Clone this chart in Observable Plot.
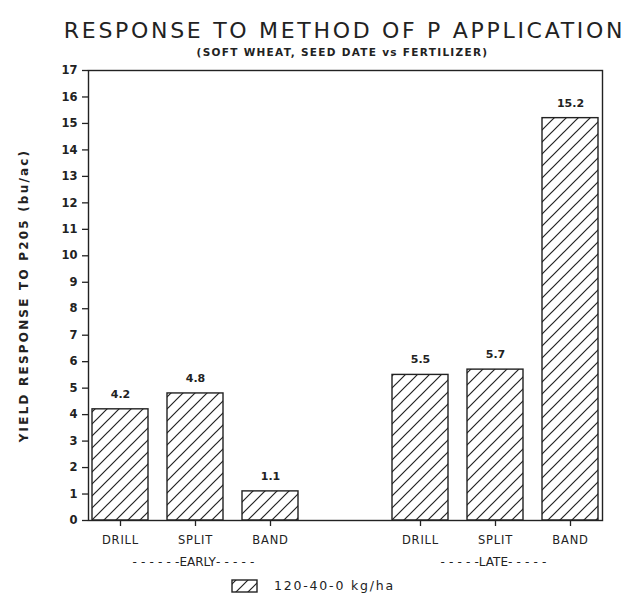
<!DOCTYPE html>
<html>
<head>
<meta charset="utf-8">
<script src="https://cdn.jsdelivr.net/npm/d3@7"></script>
<script src="https://cdn.jsdelivr.net/npm/@observablehq/plot@0.6"></script>
<style>
  body { margin: 0; background: #fff; }
  #chart svg { font-family: "DejaVu Sans", "Liberation Sans", sans-serif; }
</style>
</head>
<body>
<div id="chart"></div>
<script>
// ---- data ----
const timing = ["EARLY", "EARLY", "EARLY", "LATE", "LATE", "LATE"];
const methods = ["DRILL", "SPLIT", "BAND", "DRILL", "SPLIT", "BAND"];
const response = [4.2, 4.8, 1.1, 5.5, 5.7, 15.2];
const slots = ["EARLY DRILL", "EARLY SPLIT", "EARLY BAND", " ", "LATE DRILL", "LATE SPLIT", "LATE BAND"];
const yTicks = [0, 1, 2, 3, 4, 5, 6, 7, 8, 9, 10, 11, 12, 13, 14, 15, 16, 17];
const groupKeys = ["EARLY SPLIT", "LATE SPLIT"];
const groupTexts = ["------EARLY-----", "-----LATE-----"];
const seriesName = "120-40-0 kg/ha";
const titleText = "RESPONSE TO METHOD OF P APPLICATION";
const subtitleText = "(SOFT WHEAT, SEED DATE vs FERTILIZER)";
const yLabel = "YIELD RESPONSE TO P205 (bu/ac)";

const data = methods.map((m, i) => ({key: timing[i] + " " + m, method: m, value: response[i]}));
const groups = groupKeys.map((k, i) => ({key: k, label: groupTexts[i]}));

const defs = () => {
  const ns = "http://www.w3.org/2000/svg";
  const d = document.createElementNS(ns, "defs");
  d.innerHTML = `<pattern id="hatch" patternUnits="userSpaceOnUse" width="12" height="12">
      <rect width="12" height="12" fill="white"/>
      <path d="M-3,3 l6,-6 M0,12 l12,-12 M9,15 l6,-6" stroke="#222" stroke-width="1.2"/>
    </pattern>`;
  return d;
};

const legend = () => {
  const ns = "http://www.w3.org/2000/svg";
  const g = document.createElementNS(ns, "g");
  g.innerHTML = `<rect x="232" y="580" width="25" height="12" fill="url(#hatch)" stroke="#222" stroke-width="1.4"/>
    <text x="274" y="590" text-anchor="start" font-size="12.5" fill="#222" letter-spacing="1.8">${seriesName}</text>`;
  return g;
};

const chart = Plot.plot({
  width: 635,
  height: 595,
  marginTop: 70,
  marginBottom: 75,
  marginLeft: 88,
  marginRight: 33,
  style: {background: "white", color: "#222"},
  x: {domain: slots, paddingInner: 0.26, paddingOuter: 0.035, axis: null},
  y: {domain: [0, 17], axis: null},
  marks: [
    defs,
    Plot.barY(data, {x: "key", y: "value", fill: "url(#hatch)", stroke: "#222", strokeWidth: 1.4}),
    Plot.frame({stroke: "#222", strokeWidth: 1.4}),
    Plot.axisY({ticks: yTicks, tickSize: 6, tickPadding: 5, fontSize: 11.5, fontWeight: "bold", label: null, strokeWidth: 1.3}),
    Plot.axisX({ticks: slots.filter(s => s.trim()), tickFormat: d => d.split(" ")[1], tickSize: 6, tickPadding: 9, fontSize: 11.5, label: null, strokeWidth: 1.3}),
    Plot.text(data, {x: "key", y: "value", text: d => d.value.toFixed(1), dy: -15, fontSize: 11, fontWeight: "bold"}),
    Plot.text(groups, {x: "key", text: "label", frameAnchor: "bottom", lineAnchor: "middle", dy: 42, fontSize: 12}),
    Plot.text([titleText], {frameAnchor: "top", lineAnchor: "middle", dx: -1, dy: -40, fontSize: 22, text: d => d}),
    Plot.text([subtitleText], {frameAnchor: "top", lineAnchor: "middle", dx: -3, dy: -18, fontSize: 10.5, fontWeight: "bold", text: d => d}),
    Plot.text([yLabel], {frameAnchor: "left", textAnchor: "middle", lineAnchor: "middle", dx: -64, rotate: -90, fontSize: 12, fontWeight: "bold", text: d => d}),
    legend
  ]
});

// letter spacing tweaks to match the wide lettering of the original
const spacing = new Map([
  [titleText, "2.7px"],
  [subtitleText, "1.3px"],
  [yLabel, "2.2px"],
  ["DRILL", "0.8px"], ["SPLIT", "0.8px"], ["BAND", "0.8px"]
]);
chart.querySelectorAll("text").forEach(t => {
  const s = spacing.get(t.textContent);
  if (s) t.setAttribute("letter-spacing", s);
  if (groupTexts.includes(t.textContent)) {
    // spread the dashes, keep the word tight: "-----" + "-WORD" + "-----"
    const m = t.textContent.match(/^(-+)(-[^-]+)(-+)$/);
    const ns = "http://www.w3.org/2000/svg";
    t.textContent = "";
    [[m[1], "4.2px"], [m[2], "0px"], [m[3], "4.2px"]].forEach(([str, ls]) => {
      const ts = document.createElementNS(ns, "tspan");
      ts.setAttribute("letter-spacing", ls);
      ts.textContent = str;
      t.appendChild(ts);
    });
  }
});
document.getElementById("chart").append(chart);
</script>
</body>
</html>
